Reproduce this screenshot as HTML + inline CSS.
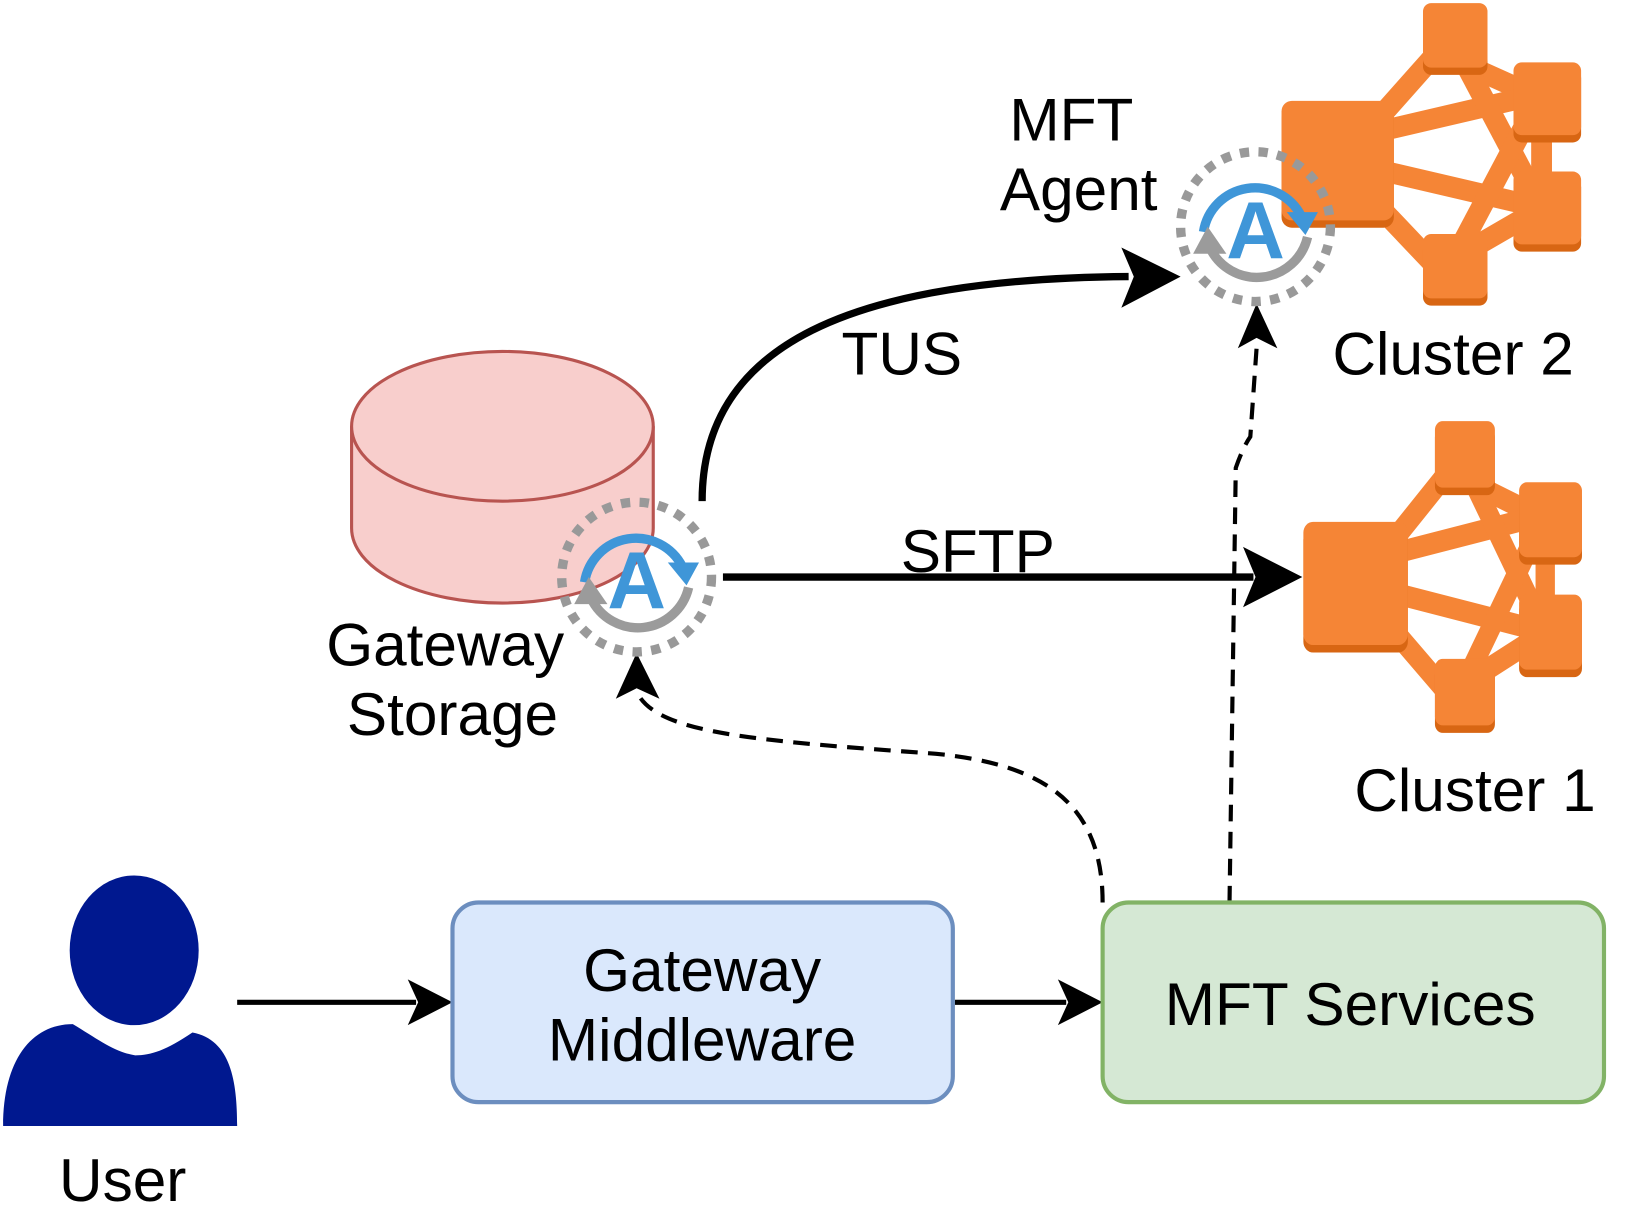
<!DOCTYPE html>
<html><head><meta charset="utf-8"><style>html,body{margin:0;padding:0;background:#fff;}svg{display:block}</style></head>
<body>
<svg width="1630" height="1230" viewBox="0 0 1567 1183" preserveAspectRatio="none" xmlns="http://www.w3.org/2000/svg" font-family="'Liberation Sans', sans-serif">
<defs>
<g id="cluster">
  <g stroke="#F58536" stroke-width="20" stroke-linejoin="round" fill="none">
    <path d="M95,112 L150,50 L250,95 L250,200 L150,258 L95,200"/>
    <line x1="100" y1="125" x2="250" y2="90"/>
    <line x1="100" y1="165" x2="250" y2="200"/>
    <line x1="160" y1="30" x2="250" y2="200"/>
    <line x1="160" y1="260" x2="250" y2="90"/>
  </g>
  <g fill="#D86613">
    <rect x="0" y="104" width="108" height="115" rx="10"/>
    <rect x="136" y="10" width="62" height="62" rx="8"/>
    <rect x="223" y="67" width="65" height="70" rx="8"/>
    <rect x="223" y="172" width="65" height="70" rx="8"/>
    <rect x="136" y="232" width="62" height="62" rx="8"/>
  </g>
  <g fill="#F58536">
    <rect x="0" y="97" width="108" height="115" rx="10"/>
    <rect x="136" y="3" width="62" height="62" rx="8"/>
    <rect x="223" y="60" width="65" height="70" rx="8"/>
    <rect x="223" y="165" width="65" height="70" rx="8"/>
    <rect x="136" y="225" width="62" height="62" rx="8"/>
  </g>
</g>
<g id="agent">
  <circle cx="0" cy="0" r="72" fill="none" stroke="#999" stroke-width="9" stroke-dasharray="9 9"/>
  <path d="M-50,5 A50,50 0 0 1 44,-10" fill="none" stroke="#3F96D8" stroke-width="9"/>
  <polygon points="30,-14 60,-14 48,8" fill="#3F96D8"/>
  <path d="M50,10 A50,50 0 0 1 -44,20" fill="none" stroke="#9B9B9B" stroke-width="9"/>
  <polygon points="-28,26 -60,26 -46,0" fill="#9B9B9B"/>
  <text x="0" y="30" font-size="78" font-weight="bold" fill="#3F96D8" text-anchor="middle">A</text>
</g>
</defs>

<use href="#cluster" x="1232" y="0"/>
<g transform="translate(1253,402) scale(0.93,1.03)"><use href="#cluster"/></g>

<path d="M338,410 L338,508 A145,72 0 0 0 628,508 L628,410" fill="#F8CECC" stroke="#B85450" stroke-width="3"/>
<ellipse cx="483" cy="410" rx="145" ry="72" fill="#F8CECC" stroke="#B85450" stroke-width="3"/>

<path d="M675,482 C675,330 820,268 1085,266" fill="none" stroke="#000" stroke-width="7"/>
<polygon points="1135,266 1078,238 1090,266 1078,296" fill="#000"/>
<line x1="695" y1="555" x2="1205" y2="555" stroke="#000" stroke-width="7"/>
<polygon points="1252,555 1195,526 1207,555 1195,584" fill="#000"/>

<path d="M1060,868 C1060,770 1000,735 900,725 C720,712 630,705 612,665" fill="none" stroke="#000" stroke-width="4" stroke-dasharray="16 10"/>
<polygon points="612,628 592,672 612,662 634,672" fill="#000"/>
<path d="M1182,868 L1188,450 Q1195,430 1202,420 L1208,335" fill="none" stroke="#000" stroke-width="4" stroke-dasharray="16 10"/>
<polygon points="1208,292 1190,335 1208,325 1228,335" fill="#000"/>

<line x1="228" y1="964" x2="400" y2="964" stroke="#000" stroke-width="5"/>
<polygon points="435,964 392,942 402,964 392,986" fill="#000"/>
<line x1="918" y1="964" x2="1025" y2="964" stroke="#000" stroke-width="5"/>
<polygon points="1060,964 1017,942 1027,964 1017,986" fill="#000"/>

<use href="#agent" x="612" y="555"/>
<use href="#agent" x="1207" y="218"/>

<rect x="435" y="868" width="481" height="192" rx="25" fill="#DAE8FC" stroke="#6C8EBF" stroke-width="4"/>
<rect x="1060" y="868" width="482" height="192" rx="25" fill="#D5E8D4" stroke="#82B366" stroke-width="4"/>

<ellipse cx="129" cy="914" rx="62" ry="72" fill="#00188F"/>
<path d="M3,1083 L228,1083 C228,1040 222,1000 185,993 C160,1010 145,1015 130,1015 C110,1012 95,1000 70,985 C30,985 3,1020 3,1083 Z" fill="#00188F"/>

<g font-size="58" fill="#000" text-anchor="middle">
<text x="428" y="640">Gateway</text>
<text x="435" y="707">Storage</text>
<text x="1030" y="135">MFT</text>
<text x="1037" y="202">Agent</text>
<text x="867" y="360">TUS</text>
<text x="940" y="550">SFTP</text>
<text x="1397" y="360">Cluster 2</text>
<text x="1418" y="780">Cluster 1</text>
<text x="118" y="1155">User</text>
<text x="675" y="953">Gateway</text>
<text x="675" y="1020">Middleware</text>
<text x="1298" y="986">MFT Services</text>
</g>
</svg>
</body></html>
